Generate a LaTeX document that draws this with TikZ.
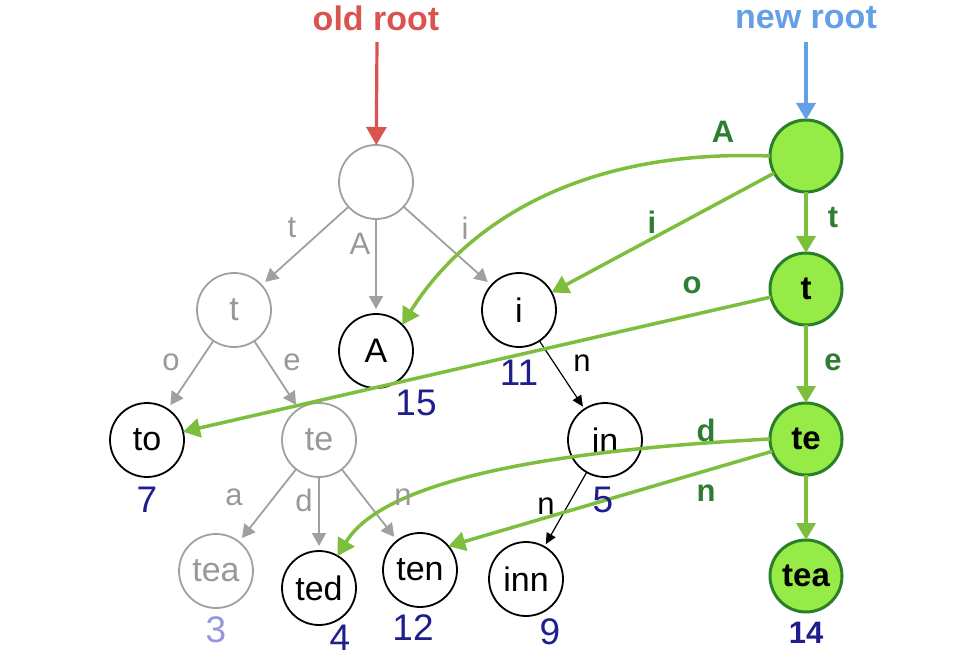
\documentclass[tikz,border=0pt]{standalone}
\usepackage{fontspec}
\setmainfont{Liberation Sans}
\usetikzlibrary{arrows.meta}
\definecolor{oldred}{HTML}{D9534F}
\definecolor{newblue}{HTML}{64A0E6}
\definecolor{treegray}{HTML}{A0A0A0}
\definecolor{labgray}{HTML}{999999}
\definecolor{gfill}{HTML}{96EB46}
\definecolor{gborder}{HTML}{2A7F2A}
\definecolor{gedge}{HTML}{7DBE3C}
\definecolor{glab}{HTML}{2E7D32}
\definecolor{numblue}{HTML}{1E1E8C}
\definecolor{numlight}{HTML}{9696DC}
\tikzset{
  every node/.style={inner sep=0pt, outer sep=0pt},
  graynode/.style={circle, draw=treegray, line width=1.8pt, minimum size=74pt, text=labgray, font=\fontsize{34}{38}\selectfont},
  blacknode/.style={circle, draw=black, line width=1.8pt, minimum size=74pt, text=black, font=\fontsize{34}{38}\selectfont},
  greennode/.style={circle, draw=gborder, fill=gfill, line width=3pt, minimum size=72pt, text=black, font=\bfseries\fontsize{33}{38}\selectfont},
  grayarr/.style={draw=treegray, line width=1.8pt, -{Triangle[length=13pt,width=14pt]}, shorten >=5pt},
  blackarr/.style={draw=black, line width=1.2pt, -{Triangle[length=11pt,width=10pt]}, shorten >=3pt},
  greenarr/.style={draw=gedge, line width=3.5pt, -{Triangle[length=17pt,width=19pt]}},
  graylab/.style={text=labgray, font=\fontsize{31}{35}\selectfont},
  blacklab/.style={text=black, font=\fontsize{31}{35}\selectfont},
  greenlab/.style={text=glab, font=\bfseries\fontsize{31}{35}\selectfont},
  numlab/.style={text=numblue, font=\fontsize{37}{41}\selectfont},
  rootlab/.style={font=\bfseries\fontsize{34}{38}\selectfont}
}
\begin{document}
\begin{tikzpicture}[x=1pt,y=-1pt]
\useasboundingbox (0,0) rectangle (960,660);
% titles
\node[rootlab, text=oldred] (oldlab) at (376,18) {old root};
\node[rootlab, text=newblue] (newlab) at (806,18) {new root};
\coordinate (oldtop) at (377,42);
\coordinate (newtop) at (806,42);
% old tree
\node[graynode] (root) at (376,182) {};
\node[graynode] (t) at (234,310) {t};
\node[blacknode] (A) at (376,351) {A};
\node[blacknode] (i) at (519,310) {i};
\node[blacknode] (to) at (147,440) {to};
\node[graynode] (te) at (319,440) {te};
\node[blacknode] (in) at (605,440) {in};
\node[graynode] (tea) at (216,571) {tea};
\node[blacknode] (ted) at (319,588) {ted};
\node[blacknode] (ten) at (420,570) {ten};
\node[blacknode] (inn) at (526,579) {inn};
% new tree
\node[greennode] (nr) at (806,156) {};
\node[greennode] (gt) at (806,289) {t};
\node[greennode] (gte) at (806,439) {te};
\node[greennode] (gtea) at (806,576) {tea};
% root arrows
\draw[oldred, line width=3.2pt, -{Triangle[length=18pt,width=20pt]}] (oldtop) -- (root);
\draw[newblue, line width=3.2pt, -{Triangle[length=17pt,width=19pt]}] (newtop) -- (nr);
% gray edges
\draw[grayarr] (root) -- (t);
\draw[grayarr] (root) -- (A);
\draw[grayarr] (root) -- (i);
\draw[grayarr] (t) -- (to);
\draw[grayarr] (t) -- (te);
\draw[grayarr] (te) -- (tea);
\draw[grayarr] (te) -- (ted);
\draw[grayarr] (te) -- (ten);
% black edges
\draw[blackarr] (i) -- (in);
\draw[blackarr] (in) -- (inn);
% green edges
\draw[greenarr] (nr) -- (gt);
\draw[greenarr] (gt) -- (gte);
\draw[greenarr] (gte) -- (gtea);
\draw[greenarr] (nr.west) .. controls (560,148) and (455,240) .. (A.45);
\draw[greenarr] (nr) -- (i);
\draw[greenarr] (gt) -- (to);
\draw[greenarr] (gte.west) .. controls (560,450) and (385,478) .. (ted.60);
\draw[greenarr] (gte.200) -- (ten.40);
% gray labels
\node[graylab] (lt) at (292,228) {t};
\node[graylab] (lA) at (360,244) {A};
\node[graylab] (li) at (465,228) {i};
\node[graylab] (lo) at (171,362) {o};
\node[graylab] (le) at (292,362) {e};
\node[graylab] (la) at (234,497) {a};
\node[graylab] (ld) at (304,500) {d};
\node[graylab] (ln) at (403,497) {n};
% black labels
\node[blacklab] (ln1) at (582,363) {n};
\node[blacklab] (ln2) at (546,506) {n};
% green labels
\node[greenlab] (gA) at (723,132) {A};
\node[greenlab] (gi) at (652,222) {i};
\node[greenlab] (gtl) at (833,218) {t};
\node[greenlab] (go) at (692,285) {o};
\node[greenlab] (gel) at (833,362) {e};
\node[greenlab] (gd) at (706,430) {d};
\node[greenlab] (gn) at (706,493) {n};
% numbers
\node[numlab] (n15) at (416,403) {15};
\node[numlab] (n11) at (519,373) {11};
\node[numlab] (n7) at (147,500) {7};
\node[numlab] (n5) at (603,500) {5};
\node[numlab, text=numlight] (n3) at (216,630) {3};
\node[numlab] (n4) at (340,638) {4};
\node[numlab] (n12) at (413,628) {12};
\node[numlab] (n9) at (550,632) {9};
\node[numlab, font=\bfseries\fontsize{31}{35}\selectfont] (n14) at (806,633) {14};
\end{tikzpicture}
\end{document}
